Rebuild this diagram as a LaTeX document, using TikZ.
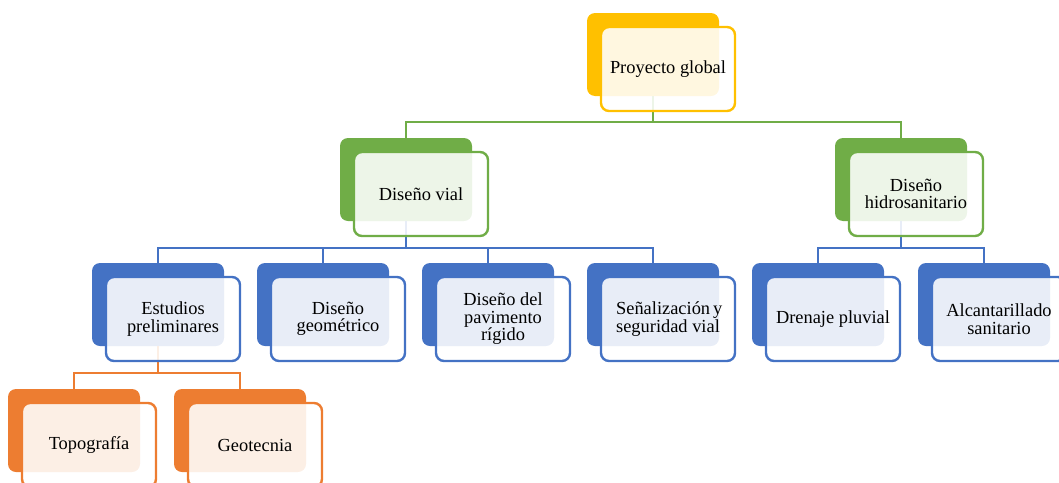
\documentclass[tikz,border=0pt]{standalone}
\usepackage{fontspec}
\usepackage{calc}
\setmainfont{Liberation Serif}
\definecolor{cyel}{HTML}{FFC000}
\definecolor{cgrn}{HTML}{70AD47}
\definecolor{cblu}{HTML}{4472C4}
\definecolor{corg}{HTML}{ED7D31}
\pgfdeclarelayer{backl}
\pgfdeclarelayer{midl}
\pgfsetlayers{backl,midl,main}
\tikzset{
  backbox/.style={rounded corners=8pt, minimum width=132pt, minimum height=83pt, inner sep=0pt, draw=none},
  frontbox/.style={rounded corners=8pt, minimum width=134pt, minimum height=84pt, inner sep=0pt,
     fill=white, fill opacity=0.88, draw opacity=1, text opacity=1, line width=2.4pt,
     align=center, font=\fontsize{18.4}{17.5}\selectfont},
  conn/.style={line width=1.9pt}
}
\newcommand\smbox[5]{%
  \begin{pgfonlayer}{backl}
  \node[backbox, fill=#4] (#1b) at (#2+66, #3+41.5) {};
  \end{pgfonlayer}
  \node[frontbox, draw=#4] (#1) at (#2+14+67, #3+14+42) {#5};
}
\begin{document}
\begin{tikzpicture}[x=1pt, y=-1pt]
\useasboundingbox (0,0) rectangle (1059,482);
\clip (0,0) rectangle (1059,482);
\coordinate (bar1) at (0,122);
\coordinate (bar2) at (0,248);
\coordinate (bar3) at (0,373);
% boxes
\smbox{p0}{587}{13}{cyel}{Proyecto global}
\smbox{v}{340}{138}{cgrn}{Diseño vial}
\smbox{h}{835}{138}{cgrn}{Diseño\\hidrosanitario}
\smbox{e}{92}{263}{cblu}{Estudios\\preliminares}
\smbox{g}{257}{263}{cblu}{Diseño\\geométrico}
\smbox{pr}{422}{263}{cblu}{Diseño del\\pavimento\\rígido}
\smbox{s}{587}{263}{cblu}{\makebox[\widthof{seguridad vial}][s]{Señalización y}\\seguridad vial}
\smbox{d}{752}{263}{cblu}{Drenaje pluvial}
\smbox{a}{918}{263}{cblu}{Alcantarillado\\sanitario}
\smbox{t}{8}{389}{corg}{Topografía}
\smbox{gt}{174}{389}{corg}{Geotecnia}
% connectors (between back and front boxes)
\begin{pgfonlayer}{midl}
\foreach \c in {vb,hb}
  \draw[conn, cgrn] (p0b.south) -- (p0b.south |- bar1) -| (\c.north);
\foreach \c in {eb,gb,prb,sb}
  \draw[conn, cblu] (vb.south) -- (vb.south |- bar2) -| (\c.north);
\foreach \c in {db,ab}
  \draw[conn, cblu] (hb.south) -- (hb.south |- bar2) -| (\c.north);
\foreach \c in {tb,gtb}
  \draw[conn, corg] (eb.south) -- (eb.south |- bar3) -| (\c.north);
\end{pgfonlayer}
\end{tikzpicture}
\end{document}
